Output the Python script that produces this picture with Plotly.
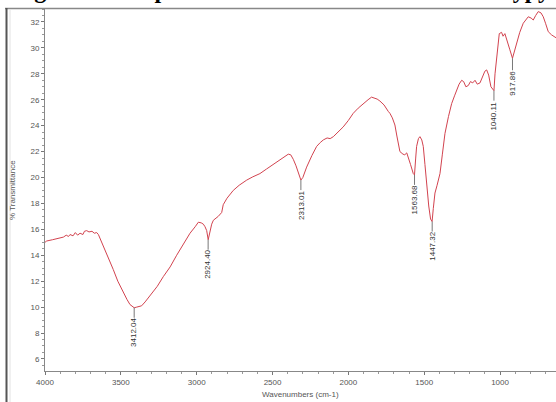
import plotly.graph_objects as go

# ---- data ----
wavenumber = [4000, 3989, 3950, 3900, 3879, 3860, 3845, 3835, 3815, 3800, 3785, 3769, 3750, 3740,
              3725, 3710, 3690, 3675, 3659, 3648, 3637, 3616, 3590, 3550, 3520, 3484, 3460, 3440,
              3425, 3412, 3395, 3363, 3340, 3308, 3260, 3220, 3175, 3132, 3090, 3044, 3010, 2989,
              2970, 2956, 2945, 2934, 2924, 2915, 2901, 2890, 2868, 2858, 2835, 2825, 2800, 2780,
              2759, 2720, 2670, 2630, 2583, 2540, 2495, 2450, 2410, 2396, 2380, 2363, 2345, 2330,
              2313, 2300, 2290, 2275, 2240, 2209, 2185, 2165, 2140, 2120, 2099, 2070, 2034, 2000,
              1968, 1935, 1902, 1870, 1847, 1825, 1810, 1792, 1765, 1737, 1726, 1710, 1693, 1680,
              1670, 1660, 1640, 1628, 1615, 1605, 1590, 1572, 1564, 1556, 1550, 1538, 1528, 1516,
              1506, 1495, 1484, 1470, 1458, 1448, 1440, 1429, 1415, 1396, 1380, 1363, 1340, 1319,
              1300, 1286, 1270, 1253, 1240, 1225, 1209, 1195, 1180, 1165, 1150, 1132, 1115, 1100,
              1088, 1075, 1060, 1040, 1033, 1020, 1005, 990, 980, 968, 950, 935, 918, 905, 891,
              870, 847, 830, 814, 795, 781, 765, 748, 730, 715, 700, 682, 660, 631, 620]
transmittance = [15.0, 15.1, 15.2, 15.35, 15.4, 15.55, 15.45, 15.6, 15.5, 15.75, 15.55, 15.7, 15.6, 15.85,
                 15.9, 15.8, 15.85, 15.7, 15.75, 15.6, 15.3, 14.8, 14.0, 12.9, 12.0, 11.1, 10.6, 10.2,
                 10.05, 9.95, 10.0, 10.1, 10.4, 10.9, 11.6, 12.35, 13.1, 14.0, 14.8, 15.7, 16.2, 16.55,
                 16.5, 16.4, 16.2, 15.9, 15.2, 15.8, 16.4, 16.7, 16.9, 17.0, 17.3, 17.9, 18.4, 18.7,
                 19.0, 19.4, 19.8, 20.05, 20.3, 20.65, 21.0, 21.35, 21.7, 21.8, 21.75, 21.4, 20.9, 20.3,
                 19.8, 20.0, 20.4, 20.8, 21.7, 22.4, 22.7, 22.9, 23.05, 23.0, 23.15, 23.5, 23.9, 24.4,
                 24.95, 25.35, 25.7, 26.0, 26.2, 26.1, 26.05, 25.9, 25.6, 25.1, 24.95, 24.6, 24.05, 23.2,
                 22.6, 22.0, 21.8, 21.75, 21.9, 21.6, 21.0, 20.3, 20.2, 21.5, 22.4, 23.0, 23.15, 22.9,
                 22.4, 21.0, 19.3, 17.8, 16.8, 16.6, 17.6, 18.8, 19.4, 20.3, 21.8, 23.4, 24.7, 25.7,
                 26.3, 26.75, 27.2, 27.5, 27.4, 27.0, 27.1, 27.4, 27.3, 27.5, 27.2, 27.3, 27.8, 28.2,
                 28.3, 27.9, 27.0, 26.7, 28.0, 29.5, 31.1, 31.2, 30.9, 31.1, 30.5, 29.85, 29.2, 29.8, 30.35,
                 31.2, 31.9, 32.2, 32.4, 32.3, 32.15, 32.5, 32.8, 32.7, 32.4, 31.9, 31.25, 31.0, 30.75, 30.7]

peak_wn = [3412.04, 2924.40, 2313.01, 1563.68, 1447.32, 1040.11, 917.86]
peak_t = [9.95, 15.2, 19.8, 20.2, 16.6, 26.7, 29.2]
peak_labels = ["3412.04", "2924.40", "2313.01", "1563.68", "1447.32", "1040.11", "917.86"]

x_ticks = [4000, 3500, 3000, 2500, 2000, 1500, 1000]
y_ticks = [6, 8, 10, 12, 14, 16, 18, 20, 22, 24, 26, 28, 30, 32]

title_text = "Figure 2: IR spectrum of the Nanostructured Polypyrrole"
x_title = "Wavenumbers (cm-1)"
y_title = "% Transmittance"

# ---- figure ----
W, H = 556, 402
ML, MR, MT, MB = 45, 0, 9, 31
pw, ph = W - ML - MR, H - MT - MB


def px_x(px):
    return (px - ML) / pw


def px_y(py):
    return (H - MB - py) / ph


fig = go.Figure()
fig.add_trace(go.Scatter(x=wavenumber, y=transmittance, mode="lines",
                         line=dict(color="#d2434f", width=1), hoverinfo="skip",
                         showlegend=False))

annotations = []
for wn, t, lab in zip(peak_wn, peak_t, peak_labels):
    annotations.append(dict(x=wn, y=t, xref="x", yref="y", text=lab, textangle=-90,
                            showarrow=True, arrowhead=0, arrowwidth=0.8, arrowcolor="#555",
                            ax=0, ay=25, standoff=0, borderpad=0,
                            font=dict(family="Liberation Sans", size=8, color="#333")))

annotations.append(dict(x=px_x(12), y=px_y(4.5), xref="paper", yref="paper",
                        xanchor="left", yanchor="bottom", showarrow=False, borderpad=0,
                        text="<b>" + title_text + "</b>",
                        font=dict(family="Liberation Serif", size=24, color="#000")))
annotations.append(dict(x=px_x(12), y=px_y(190), xref="paper", yref="paper",
                        xanchor="center", yanchor="middle", showarrow=False, textangle=-90,
                        text=y_title, font=dict(family="Liberation Sans", size=8, color="#555")))
annotations.append(dict(x=0.5, y=px_y(394), xref="paper", yref="paper",
                        xanchor="center", yanchor="middle", showarrow=False,
                        text=x_title, font=dict(family="Liberation Sans", size=8, color="#555")))

shapes = [
    dict(type="line", xref="paper", yref="paper", x0=px_x(5), x1=px_x(556),
         y0=px_y(8.5), y1=px_y(8.5), line=dict(color="#888", width=1.5)),
    dict(type="line", xref="paper", yref="paper", x0=px_x(6.5), x1=px_x(6.5),
         y0=px_y(8), y1=px_y(402), line=dict(color="#555", width=2)),
    dict(type="line", xref="paper", yref="paper", x0=px_x(10), x1=px_x(10),
         y0=px_y(10), y1=px_y(402), line=dict(color="#e2e2e2", width=1)),
]

fig.update_layout(
    width=W, height=H,
    margin=dict(l=ML, r=MR, t=MT, b=MB, pad=0),
    paper_bgcolor="white", plot_bgcolor="white",
    showlegend=False,
    annotations=annotations,
    shapes=shapes,
    xaxis=dict(range=[4000, 631], tickvals=x_ticks, ticktext=[str(v) for v in x_ticks],
               automargin=False,
               ticks="outside", ticklen=3, tickcolor="#777", showline=True, linecolor="#888",
               linewidth=1, showgrid=False, zeroline=False,
               tickfont=dict(family="Liberation Sans", size=8, color="#555"),
               minor=dict(dtick=100, ticks="outside", ticklen=2, tickcolor="#999")),
    yaxis=dict(range=[5.07, 33.0], tickvals=y_ticks, ticktext=[str(v) for v in y_ticks],
               automargin=False,
               ticks="outside", ticklen=3, tickcolor="#777", showline=True, linecolor="#888",
               linewidth=1, showgrid=False, zeroline=False,
               tickfont=dict(family="Liberation Sans", size=8, color="#555"),
               minor=dict(dtick=0.5, ticks="outside", ticklen=2, tickcolor="#999")),
)

fig.write_html("out.html", config={"displayModeBar": False},
               post_script="document.body.style.margin='0px';")
